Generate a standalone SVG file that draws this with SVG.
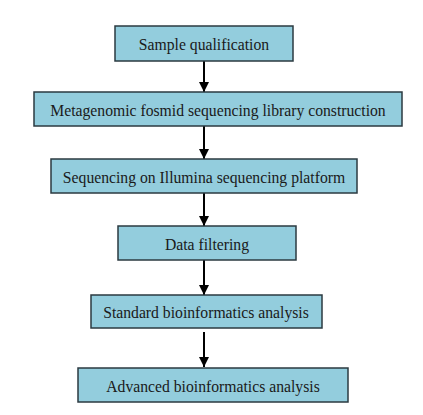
<svg xmlns="http://www.w3.org/2000/svg" width="423" height="415" viewBox="0 0 423 415">
<style>
.box{fill:#93CDDD;stroke:#2b3a40;stroke-width:1.5}
.t{font-family:"Liberation Serif","Times New Roman",serif;font-size:15.7px;fill:#1a1a1a;text-anchor:middle;dominant-baseline:central}
.c{stroke:#000;stroke-width:2;fill:none;marker-end:url(#ah)}
</style>
<defs>
<marker id="ah" viewBox="0 0 10 10" refX="10" refY="5" markerWidth="5" markerHeight="5" markerUnits="strokeWidth" orient="auto">
<path d="M0,0 L10,5 L0,10 z" fill="#000"/>
</marker>
</defs>
<rect width="423" height="415" fill="#fff"/>
<g id="connectors">
<line class="c" x1="204" y1="61" x2="204" y2="92"/>
<line class="c" x1="204" y1="126" x2="204" y2="159"/>
<line class="c" x1="204" y1="193" x2="204" y2="226"/>
<line class="c" x1="204" y1="260" x2="204" y2="295"/>
<line class="c" x1="204" y1="332" x2="204" y2="367"/>
</g>
<g id="n1"><rect class="box" x="115" y="26" width="178" height="35"/><text class="t" x="204" y="44">Sample qualification</text></g>
<g id="n2"><rect class="box" x="34" y="92" width="368" height="34"/><text class="t" x="218" y="110">Metagenomic fosmid sequencing library construction</text></g>
<g id="n3"><rect class="box" x="51" y="159" width="306" height="34"/><text class="t" x="204" y="177">Sequencing on Illumina sequencing platform</text></g>
<g id="n4"><rect class="box" x="118" y="226" width="178" height="34"/><text class="t" x="207" y="244">Data filtering</text></g>
<g id="n5"><rect class="box" x="91" y="295" width="231" height="33"/><text class="t" x="206" y="312">Standard bioinformatics analysis</text></g>
<g id="n6"><rect class="box" x="78" y="368" width="270" height="34"/><text class="t" x="213" y="386">Advanced bioinformatics analysis</text></g>
</svg>
